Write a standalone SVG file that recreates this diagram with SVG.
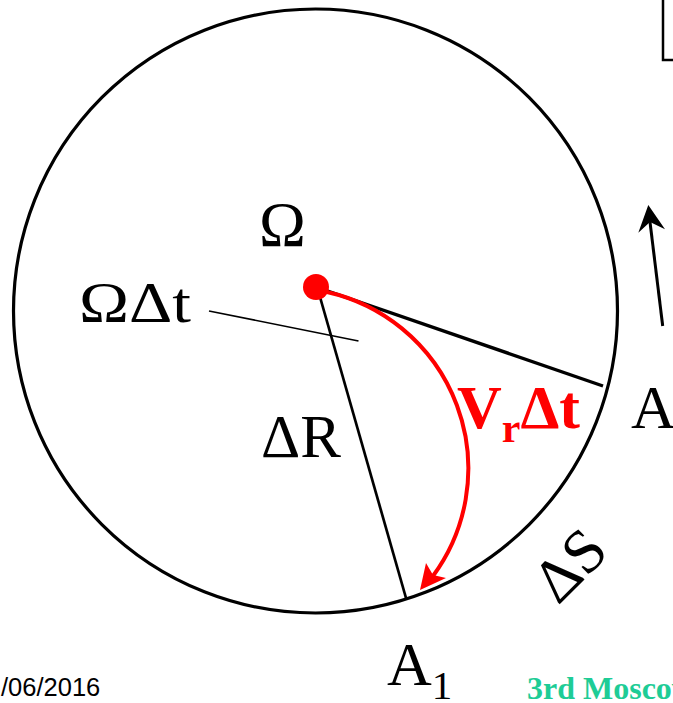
<svg xmlns="http://www.w3.org/2000/svg" width="673" height="703" viewBox="0 0 673 703">
<style>
.ln{stroke:#000;fill:none;stroke-linecap:butt}
.lbl{font-family:"Liberation Serif","Times New Roman",serif;fill:#000}
.red{font-family:"Liberation Serif","Times New Roman",serif;fill:#ff0000;font-weight:bold}
</style>
<rect x="0" y="0" width="673" height="703" fill="#fff"/>
<g id="frame-box">
<path d="M663 0 V60 H675" class="ln" stroke-width="2.5"/>
</g>
<g id="disk">
<circle cx="315.5" cy="311" r="302" class="ln" stroke-width="3.2"/>
</g>
<g id="connectors">
<line x1="316" y1="287" x2="603" y2="386" class="ln" stroke-width="3.4"/>
<line x1="318" y1="290" x2="406" y2="598" class="ln" stroke-width="2.7"/>
<line x1="209" y1="311" x2="358.5" y2="341" class="ln" stroke-width="1.6"/>
<path d="M327 292 A181 181 0 0 1 433 576" fill="none" stroke="#ff0000" stroke-width="4"/>
<polygon points="420,590 426,563 433,575 446,578" fill="#ff0000"/>
<line x1="662.7" y1="326" x2="650" y2="222" class="ln" stroke-width="3"/>
<polygon points="648.3,205 665,229.3 650,222 638.3,232.7" fill="#000"/>
</g>
<g id="center">
<circle cx="316" cy="287" r="13" fill="#ff0000"/>
</g>
<g id="labels">
<text class="lbl" x="259" y="246" font-size="63">Ω</text>
<text class="lbl" x="79" y="322" font-size="56" textLength="112" lengthAdjust="spacingAndGlyphs">ΩΔt</text>
<text class="lbl" x="261" y="457" font-size="61">ΔR</text>
<text class="red" x="457" y="428" font-size="62">V<tspan font-size="42" y="442">r</tspan><tspan y="428">Δt</tspan></text>
<text class="lbl" x="631" y="428" font-size="62">A</text>
<text class="lbl" x="387" y="685" font-size="62">A<tspan font-size="41" y="699">1</tspan></text>
<text class="lbl" font-size="62" transform="translate(558 606) rotate(-45)">ΔS</text>
<text x="1" y="696" font-family="'Liberation Sans',Arial,sans-serif" font-size="25.5" fill="#000">/06/2016</text>
<text x="527" y="699" font-family="'Liberation Serif','Times New Roman',serif" font-weight="bold" font-size="32" fill="#1ecc96">3rd Moscow</text>
</g>
</svg>
